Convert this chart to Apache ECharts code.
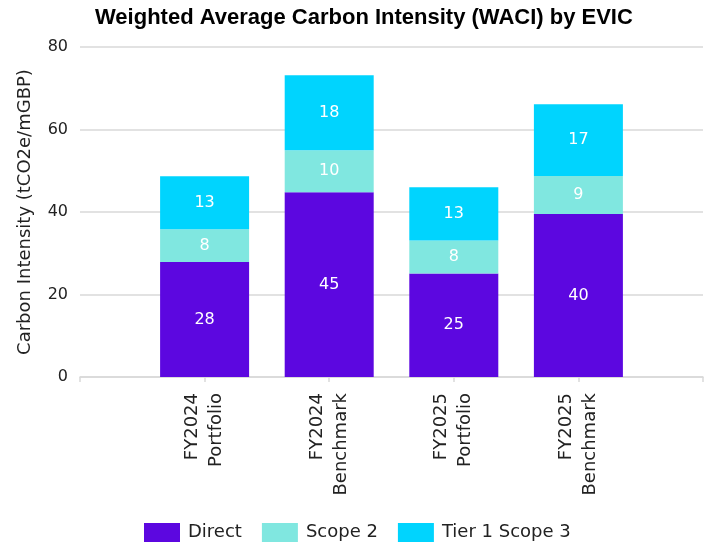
<!DOCTYPE html>
<html>
<head>
<meta charset="utf-8">
<script src="https://cdn.jsdelivr.net/npm/echarts@6/dist/echarts.min.js"></script>
<style>
  html, body { margin: 0; padding: 0; background: #fff; }
  #chart { width: 715px; height: 545px; }
</style>
</head>
<body>
<div id="chart"></div>
<script>
// blank slots at both ends so the bars sit on the inner ticks
const categories = ["", "FY2024\nPortfolio", "FY2024\nBenchmark", "FY2025\nPortfolio", "FY2025\nBenchmark", " "]
const direct = [null, 27.9, 44.8, 25.1, 39.5, null]
const scope2 = [null, 7.9, 10.15, 8.0, 9.2, null]
const tier1Scope3 = [null, 12.85, 18.2, 12.9, 17.4, null]
const yTicks = [0, 20, 40, 60, 80]

const totals = direct.map((d, i) => (d == null ? null : d + scope2[i] + tier1Scope3[i]))

const font = "DejaVu Sans"
const grey = "#d9d9d9"

const innerLabel = {
  show: true,
  position: "inside",
  color: "#ffffff",
  fontFamily: font,
  fontSize: 16,
  formatter: (p) => Math.round(p.value),
}

var myChart = echarts.init(document.getElementById("chart"))
var option = {
  animation: false,
  title: {
    text: "Weighted Average Carbon Intensity (WACI) by EVIC",
    left: 90,
    top: 2,
    textStyle: { fontFamily: "Liberation Sans", fontWeight: "bold", fontSize: 22, color: "#000" },
  },
  legend: {
    data: ["Direct", "Scope 2", "Tier 1 Scope 3"],
    top: 518,
    left: 139,
    icon: "rect",
    itemWidth: 36,
    itemHeight: 19,
    itemGap: 20,
    textStyle: { fontFamily: font, fontSize: 18, color: "#222", padding: [0, 0, 0, 3] },
  },
  grid: { left: 80, right: 10, top: 47, bottom: 168 },
  xAxis: {
    type: "category",
    data: categories,
    boundaryGap: false,
    axisLine: { lineStyle: { color: grey, width: 1.5 } },
    axisTick: { show: true, length: 5, lineStyle: { color: grey, width: 1.5 } },
    axisLabel: {
      rotate: 90,
      margin: 16,
      fontFamily: font,
      fontSize: 18,
      lineHeight: 24,
      color: "#222",
      interval: 0,
    },
  },
  yAxis: {
    type: "value",
    min: yTicks[0],
    max: yTicks[yTicks.length - 1],
    interval: 20,
    name: "Carbon Intensity (tCO2e/mGBP)",
    nameLocation: "middle",
    nameGap: 46,
    nameTextStyle: { fontFamily: font, fontSize: 18, color: "#222" },
    axisLine: { show: false },
    axisTick: { show: false },
    axisLabel: { margin: 12, fontFamily: font, fontSize: 16, color: "#222" },
    splitLine: { lineStyle: { color: grey, width: 1.5 } },
  },
  series: [
    {
      name: "Direct",
      type: "bar",
      stack: "waci",
      barWidth: 89,
      data: direct,
      itemStyle: { color: "#5c07e0" },
      label: innerLabel,
    },
    {
      name: "Scope 2",
      type: "bar",
      stack: "waci",
      barWidth: 89,
      data: scope2,
      itemStyle: { color: "#80e7e0" },
      label: innerLabel,
    },
    {
      name: "Tier 1 Scope 3",
      type: "bar",
      stack: "waci",
      barWidth: 89,
      data: tier1Scope3,
      itemStyle: { color: "#00d4fe" },
      label: innerLabel,
    },
    {
      name: "Total",
      type: "line",
      data: totals,
      symbol: "none",
      lineStyle: { opacity: 0 },
      label: {
        show: true,
        position: "top",
        distance: 18,
        color: "#000",
        fontFamily: font,
        fontSize: 17,
        formatter: (p) => Math.round(p.value),
      },
    },
  ],
}
option && myChart.setOption(option)
</script>
</body>
</html>
